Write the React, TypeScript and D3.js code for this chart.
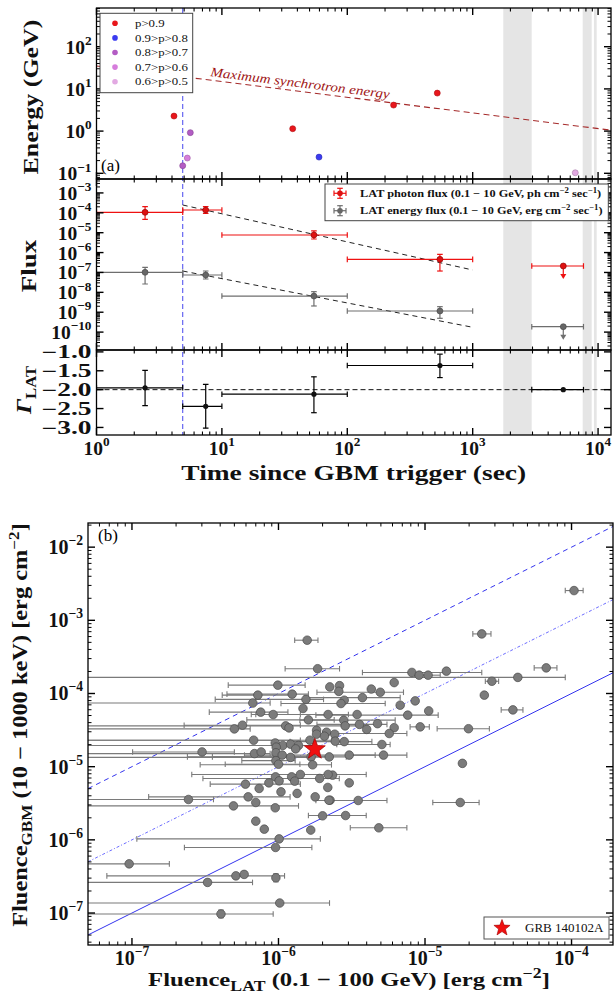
import React, { useLayoutEffect, useRef, useState } from "react";
import * as d3 from "d3";

// ---------------- Panel (a) data ----------------
const probLabels = ["p>0.9", "0.9>p>0.8", "0.8>p>0.7", "0.7>p>0.6", "0.6>p>0.5"];
const probColors = ["#e8161b", "#3b3bf0", "#b35cc4", "#d67ddc", "#e2a9e2"];
const photonTime = [4.15, 5.6, 5.3, 4.87, 36.7, 59.5, 234, 522, 6580];
const photonEnergy = [2.27, 0.92, 0.23, 0.151, 1.14, 0.242, 4.13, 7.95, 0.103];
const photonClass = [0, 2, 3, 2, 0, 1, 0, 0, 4];

const maxSyncTime = [1, 12680];
const maxSyncEnergy = [35, 1.05];

const binTime = [2.44, 7.43, 54.2, 548, 5280];
const binStart = [1, 4.87, 10, 100, 2960];
const binEnd = [4.87, 10, 100, 1000, 7650];
const photonFlux = [1.06e-4, 1.38e-4, 7.66e-6, 4.57e-7, 2.11e-7];
const photonFluxLo = [4.71e-5, 9.2e-5, 4.82e-6, 1.18e-7, NaN];
const photonFluxHi = [2.03e-4, 2.07e-4, 1.22e-5, 8.2e-7, NaN];
const energyFlux = [1.02e-7, 7.45e-8, 6.5e-9, 1.15e-9, 1.87e-10];
const energyFluxLo = [2.62e-8, 4.69e-8, 2.06e-9, 4.94e-10, NaN];
const energyFluxHi = [1.82e-7, 1.18e-7, 1.08e-8, 1.9e-9, NaN];
const isUpperLimit = [false, false, false, false, true];
const photonFitTime = [4.87, 1000];
const photonFitFlux = [2.47e-4, 1.33e-7];
const energyFitTime = [4.87, 1000];
const energyFitFlux = [1.18e-7, 1.75e-10];
const photonIndex = [-1.95, -2.44, -2.12, -1.36, -2.0];
const photonIndexLo = [-2.42, -3.02, -2.61, -1.68, NaN];
const photonIndexHi = [-1.49, -1.86, -1.66, -1.06, NaN];
const gapStart = [1754, 7540, 9270];
const gapEnd = [2956, 8890, 9750];
const triggerTime = 4.87;
const referenceIndex = -2.0;

const energyTickExp = [-1, 0, 1, 2];
const fluxTickExp = [-3, -4, -5, -6, -7, -8, -9, -10];
const indexTicks = [-1.0, -1.5, -2.0, -2.5, -3.0];
const timeTickExp = [0, 1, 2, 3, 4];

// ---------------- Panel (b) data ----------------
const EDGE = 1e-8;
// [Fluence LAT, Fluence GBM, LAT low, LAT high]
const grbSample: (number | null)[][] = [
  [1.57e-6, 5.35e-4, 1.29e-6, 1.86e-6],
  [1.85e-6, 2.18e-4, 1.11e-6, 2.61e-6],
  [9.9e-7, 1.3e-4, 4.54e-7, 1.52e-6],
  [2.24e-6, 1.23e-4, null, null],
  [2.61e-6, 1.28e-4, null, null],
  [2.58e-6, 1.07e-4, null, null],
  [7.23e-7, 9.5e-5, 4.13e-7, 1.24e-6],
  [1.24e-6, 9.8e-5, 4.45e-7, 1.6e-6],
  [1.54e-6, 8.3e-5, 3.7e-7, 2.03e-6],
  [6.68e-7, 7.4e-5, EDGE, 8.77e-7],
  [2.81e-6, 8.1e-5, null, null],
  [2.67e-6, 7.3e-5, 1.04e-6, 5.35e-6],
  [1.47e-6, 6.24e-5, null, null],
  [7.56e-7, 5.56e-5, 3.37e-7, 1.16e-6],
  [9.2e-7, 5.16e-5, 6.52e-7, 1.41e-6],
  [2.18e-6, 5.16e-5, 7.0e-7, 3.0e-6],
  [1.6e-6, 4.36e-5, 6.08e-7, 2.4e-6],
  [2.79e-6, 4.32e-5, 1.4e-6, 6.26e-6],
  [2.85e-6, 3.61e-5, EDGE, 4.0e-6],
  [5.0e-7, 3.28e-5, EDGE, 6.41e-7],
  [5.68e-7, 3.69e-5, 2.27e-7, 1.41e-6],
  [1.12e-6, 3.61e-5, null, null],
  [1.18e-6, 3.39e-5, null, null],
  [1.82e-6, 3.15e-5, null, null],
  [2.13e-6, 2.96e-5, null, null],
  [1.82e-6, 2.78e-5, null, null],
  [2.42e-6, 2.78e-5, null, null],
  [2.06e-6, 2.61e-5, null, null],
  [6.77e-7, 2.3e-5, EDGE, 1.41e-6],
  [1.64e-6, 2.3e-5, EDGE, 2.3e-6],
  [2.44e-6, 2.23e-5, null, null],
  [2.81e-6, 2.2e-5, 1.2e-6, 4.34e-6],
  [3.01e-7, 1.59e-5, 1.01e-7, 5.0e-7],
  [6.86e-7, 1.51e-5, EDGE, 8.77e-7],
  [7.62e-7, 1.59e-5, null, null],
  [8.14e-6, 1.94e-4, 3.74e-6, 2.44e-5],
  [9.12e-6, 1.78e-4, null, null],
  [1.05e-5, 1.78e-4, 8.5e-6, 1.27e-5],
  [1.4e-5, 2.02e-4, null, null],
  [6.16e-6, 1.41e-4, null, null],
  [4.3e-6, 1.15e-4, null, null],
  [4.95e-6, 1.04e-4, 1.83e-6, 7.13e-6],
  [3.74e-6, 8.77e-5, 1.5e-6, 6.77e-6],
  [6.77e-6, 6.92e-5, null, null],
  [8.57e-6, 7.92e-5, null, null],
  [3.44e-6, 5.16e-5, null, null],
  [7.62e-6, 5.06e-5, 1.8e-6, 1.23e-5],
  [1.06e-5, 5.78e-5, null, null],
  [3.57e-6, 3.78e-5, 1.83e-6, 5.5e-6],
  [4.74e-6, 3.87e-5, null, null],
  [4.0e-6, 3.23e-5, null, null],
  [6.16e-6, 3.41e-5, null, null],
  [5.7e-6, 2.84e-5, 2.0e-6, 7.52e-6],
  [9.27e-6, 3.5e-5, 7.91e-6, 1.07e-5],
  [5.08e-6, 2.01e-5, 2.5e-6, 5.78e-6],
  [9.5e-7, 2.11e-5, null, null],
  [1.07e-6, 1.95e-5, null, null],
  [1.21e-6, 2.03e-5, null, null],
  [1.37e-6, 1.95e-5, EDGE, 1.8e-6],
  [9.65e-7, 1.85e-5, null, null],
  [1.31e-6, 1.75e-5, null, null],
  [9.6e-7, 1.55e-5, null, null],
  [1.06e-6, 1.44e-5, null, null],
  [1.21e-6, 1.34e-5, EDGE, 1.7e-6],
  [2.22e-6, 1.36e-5, 2.39e-7, 2.9e-6],
  [5.21e-6, 1.44e-5, 2.98e-6, 7.52e-6],
  [9.6e-7, 1.21e-5, 5.62e-7, 1.3e-6],
  [1.0e-6, 1.08e-5, 4.33e-7, 1.4e-6],
  [1.67e-6, 1.36e-5, 3.54e-7, 2.2e-6],
  [1.71e-6, 1.06e-5, 2.92e-7, 2.3e-6],
  [3.04e-6, 1.44e-5, 5.86e-7, 4.57e-6],
  [1.04e-4, 2.55e-3, 9.06e-5, 1.2e-4],
  [2.44e-5, 6.52e-4, 2.12e-5, 2.82e-5],
  [6.72e-5, 2.24e-4, 5.56e-5, 7.95e-5],
  [2.86e-5, 1.47e-4, 2.58e-5, 3.18e-5],
  [4.3e-5, 1.66e-4, EDGE, 9.06e-5],
  [2.54e-5, 9.5e-5, null, null],
  [3.98e-5, 5.97e-5, 3.31e-5, 4.66e-5],
  [1.98e-5, 3.3e-5, 1.21e-5, 2.75e-5],
  [1.8e-5, 1.11e-5, null, null],
  [1.74e-5, 3.24e-6, 1.13e-5, 2.34e-5],
  [2.34e-6, 7.66e-6, null, null],
  [3.04e-6, 6.01e-6, null, null],
  [3.5e-6, 3.45e-6, 1.8e-6, 5.5e-6],
  [2.87e-6, 2.15e-6, 1.6e-6, 3.97e-6],
  [4.84e-6, 1.46e-6, 3.09e-6, 7.52e-6],
  [2.25e-6, 3.48e-6, null, null],
  [9.55e-7, 7.26e-6, null, null],
  [1.23e-6, 7.26e-6, null, null],
  [1.41e-6, 7.82e-6, null, null],
  [2.18e-6, 7.82e-6, 2.56e-7, 3.97e-6],
  [1.01e-6, 6.4e-6, null, null],
  [1.29e-6, 6.34e-6, null, null],
  [1.91e-6, 6.9e-6, 3.05e-7, 2.6e-6],
  [5.95e-7, 5.77e-6, 3.42e-7, 1.41e-6],
  [8.6e-7, 6.01e-6, null, null],
  [7.38e-7, 5.04e-6, null, null],
  [1.04e-6, 4.53e-6, null, null],
  [1.34e-6, 4.31e-6, null, null],
  [2.17e-6, 5.2e-6, null, null],
  [2.43e-7, 3.56e-6, EDGE, 3.6e-7],
  [6.21e-7, 3.87e-6, 1.3e-7, 1.2e-6],
  [1.78e-6, 3.87e-6, null, null],
  [2.21e-6, 3.48e-6, null, null],
  [4.93e-7, 2.91e-6, EDGE, 1.37e-6],
  [7.0e-7, 3.24e-6, null, null],
  [9.5e-7, 2.74e-6, null, null],
  [2.0e-6, 2.13e-6, null, null],
  [7.0e-7, 1.8e-6, null, null],
  [8.0e-7, 1.4e-6, null, null],
  [1.66e-6, 1.36e-6, null, null],
  [1.01e-6, 1.03e-6, 1.08e-7, 1.93e-6],
  [9.55e-7, 7.87e-7, 2.28e-7, 1.69e-6],
  [9.57e-8, 4.7e-7, EDGE, 1.8e-7],
  [5.12e-7, 3.22e-7, 6.74e-8, 1.1e-6],
  [5.83e-7, 3.37e-7, null, null],
  [9.6e-7, 3.03e-7, null, null],
  [3.28e-7, 2.62e-7, EDGE, 6.65e-7],
  [1.02e-6, 1.37e-7, EDGE, 2.23e-6],
  [4.05e-7, 9.7e-8, EDGE, 9.2e-7],
];
// [row index, GBM low, GBM high]
const gbmErrors = [
  [116, 2.67e-7, 3.44e-7],
  [119, 8.6e-8, 1.1e-7],
];
const grb140102A = [1.77e-6, 1.73e-5];
const ratioLines = [1, 10, 100];
const ratioDash = ["none", "3,2,1,2", "5,4"];
const fluGbmTickExp = [-2, -3, -4, -5, -6, -7];
const fluLatTickExp = [-7, -6, -5, -4];

// ---------------- helpers ----------------
const SERIF = "'Liberation Serif','DejaVu Serif','Times New Roman',serif";
const MINUS = "\u2212";

function logTicks(scale: any) {
  const dom = scale.domain();
  const lo = Math.min(dom[0], dom[1]);
  const hi = Math.max(dom[0], dom[1]);
  const major: number[] = [];
  const minor: number[] = [];
  for (let e = Math.floor(Math.log10(lo)); e <= Math.ceil(Math.log10(hi)); e++) {
    for (let m = 1; m < 10; m++) {
      const v = m * Math.pow(10, e);
      if (v >= lo * 0.9999 && v <= hi * 1.0001) (m === 1 ? major : minor).push(v);
    }
  }
  return { major, minor };
}

// text stretched horizontally to a given width (imitates the wide bold TeX font)
function FitText({ x, y, width, rotate = 0, anchor = "middle", children, ...rest }: any) {
  const ref = useRef<SVGTextElement>(null);
  const [sx, setSx] = useState(1);
  useLayoutEffect(() => {
    if (ref.current) {
      const w = ref.current.getBBox().width;
      if (w > 0) setSx(width / w);
    }
  }, [width]);
  return (
    <g transform={`translate(${x},${y}) rotate(${rotate}) scale(${sx},1)`}>
      <text ref={ref} x={0} y={0} textAnchor={anchor} fontFamily={SERIF} {...rest}>
        {children}
      </text>
    </g>
  );
}

function Pow({ x, y, e, anchor = "middle", fs = 20 }: any) {
  const s = e < 0 ? MINUS + Math.abs(e) : String(e);
  return (
    <text x={x} y={y} textAnchor={anchor} fontFamily={SERIF} fontSize={fs} fontWeight="bold" fill="#111">
      10
      <tspan dy={-fs * 0.45} fontSize={fs * 0.68}>
        {s}
      </tspan>
    </text>
  );
}

function starPath(cx: number, cy: number, R: number, r: number) {
  const p = d3.path();
  for (let i = 0; i < 10; i++) {
    const a = -Math.PI / 2 + (i * Math.PI) / 5;
    const rad = i % 2 === 0 ? R : r;
    const px = cx + rad * Math.cos(a);
    const py = cy + rad * Math.sin(a);
    if (i === 0) p.moveTo(px, py);
    else p.lineTo(px, py);
  }
  p.closePath();
  return p.toString();
}

export default function App() {
  // layout
  const aL = 96.5, aR = 611;
  const eTop = 8, eBot = 179, fBot = 350, gBot = 435;
  const bL = 88, bR = 613, bTop = 523, bBot = 945;

  const xA = d3.scaleLog().domain([1, 12680]).range([aL, aR]);
  const yE = d3.scaleLog().domain([Math.pow(10, -1.135), Math.pow(10, 2.917)]).range([eBot, eTop]);
  const yF = d3.scaleLog().domain([Math.pow(10, -10.9), Math.pow(10, -2.3)]).range([fBot, eBot]);
  const yG = d3.scaleLinear().domain([-3.2, -0.95]).range([gBot, fBot]);
  const xB = d3.scaleLog().domain([Math.pow(10, -7.3), Math.pow(10, -3.717)]).range([bL, bR]);
  const yB = d3.scaleLog().domain([Math.pow(10, -7.437), Math.pow(10, -1.67)]).range([bBot, bTop]);

  const MAJ = 7, MIN = 3.5;
  const tickEls: any[] = [];
  let k = 0;
  const tl = (x1: number, y1: number, x2: number, y2: number, w: number) =>
    tickEls.push(<line key={"t" + k++} x1={x1} y1={y1} x2={x2} y2={y2} stroke="#000" strokeWidth={w} />);

  const xTickSet = (sc: any, vals: number[], T: number, B: number, len: number, w: number) =>
    vals.forEach((v) => {
      const p = sc(v);
      tl(p, B, p, B - len, w);
      tl(p, T, p, T + len, w);
    });
  const yTickSet = (sc: any, vals: number[], L: number, R: number, len: number, w: number) =>
    vals.forEach((v) => {
      const p = sc(v);
      tl(L, p, L + len, p, w);
      tl(R, p, R - len, p, w);
    });

  const tA = logTicks(xA);
  [[eTop, eBot], [eBot, fBot], [fBot, gBot]].forEach(([T, B]) => {
    xTickSet(xA, tA.major, T, B, MAJ, 1.4);
    xTickSet(xA, tA.minor, T, B, MIN, 1.1);
  });
  const eT = logTicks(yE);
  yTickSet(yE, eT.major, aL, aR, MAJ, 1.4);
  yTickSet(yE, eT.minor, aL, aR, MIN, 1.0);
  const fT = logTicks(yF);
  yTickSet(yF, fT.major, aL, aR, MAJ, 1.4);
  yTickSet(yF, fT.minor, aL, aR, MIN, 1.0);
  yTickSet(yG, indexTicks, aL, aR, MAJ, 1.4);

  const bxT = logTicks(xB);
  xTickSet(xB, bxT.major, bTop, bBot, MAJ, 1.4);
  xTickSet(xB, bxT.minor, bTop, bBot, MIN, 1.0);
  const byT = logTicks(yB);
  yTickSet(yB, byT.major, bL, bR, MAJ, 1.4);
  yTickSet(yB, byT.minor, bL, bR, MIN, 1.0);

  const red = "#ee1111";
  const gray = "#6e6e6e";

  const cap = 2.8;
  const hErr = (x1: number, x2: number, y: number, color: string, w: number, key: string) => (
    <g key={key} stroke={color} strokeWidth={w}>
      <line x1={x1} x2={x2} y1={y} y2={y} />
      <line x1={x1} x2={x1} y1={y - cap} y2={y + cap} />
      <line x1={x2} x2={x2} y1={y - cap} y2={y + cap} />
    </g>
  );
  const vErr = (x: number, y1: number, y2: number, color: string, w: number, key: string) => (
    <g key={key} stroke={color} strokeWidth={w}>
      <line x1={x} x2={x} y1={y1} y2={y2} />
      <line x1={x - cap} x2={x + cap} y1={y1} y2={y1} />
      <line x1={x - cap} x2={x + cap} y1={y2} y2={y2} />
    </g>
  );

  const syncLine = d3
    .line<number>()
    .x((_, i) => xA(maxSyncTime[i]))
    .y((_, i) => yE(maxSyncEnergy[i]))(maxSyncTime as any);
  const sx0 = xA(maxSyncTime[0]), sy0 = yE(maxSyncEnergy[0]);
  const sx1 = xA(maxSyncTime[1]), sy1 = yE(maxSyncEnergy[1]);
  const syncAngle = (Math.atan2(sy1 - sy0, sx1 - sx0) * 180) / Math.PI;
  const textX = 210;
  const textY = sy0 + ((textX - sx0) * (sy1 - sy0)) / (sx1 - sx0) - 4;

  const fitPath = (ts: number[], fs: number[]) =>
    d3.line<number>().x((_, i) => xA(ts[i])).y((_, i) => yF(fs[i]))(ts as any);

  const xDom = xB.domain();
  const upArrow = (x: number, y: number, c: string, key: string) => (
    <g key={key}>
      <line x1={x} x2={x} y1={y} y2={y + 9} stroke={c} strokeWidth={1.2} />
      <path d={`M${x - 3},${y + 8} L${x + 3},${y + 8} L${x},${y + 13} Z`} fill={c} />
    </g>
  );

  return (
    <div style={{ position: "absolute", left: 0, top: 0 }}>
      <svg width={614} height={995} viewBox="0 0 614 995" style={{ display: "block", background: "#fff" }}>
        <defs>
          <clipPath id="clipA">
            <rect x={aL} y={eTop} width={aR - aL} height={gBot - eTop} />
          </clipPath>
          <clipPath id="clipB">
            <rect x={bL} y={bTop} width={bR - bL} height={bBot - bTop} />
          </clipPath>
        </defs>
        <rect x={0} y={0} width={614} height={995} fill="#fff" />

        {/* ---------- Panel (a) ---------- */}
        <g clipPath="url(#clipA)">
          {gapStart.map((s, i) => (
            <rect key={"gap" + i} x={xA(s)} y={eTop} width={xA(gapEnd[i]) - xA(s)} height={gBot - eTop} fill="#e5e5e5" />
          ))}
          <line x1={xA(triggerTime)} x2={xA(triggerTime)} y1={eTop} y2={gBot} stroke="#5656f0" strokeWidth={1.1} strokeDasharray="5,3" />
          <path d={syncLine || ""} fill="none" stroke="#a52a2a" strokeWidth={1.1} strokeDasharray="6,4" />
          {photonTime.map((t, i) => (
            <circle
              key={"ph" + i}
              cx={xA(t)}
              cy={yE(photonEnergy[i])}
              r={3}
              fill={probColors[photonClass[i]]}
              stroke={d3.color(probColors[photonClass[i]])!.darker(0.8).toString()}
              strokeWidth={0.6}
            />
          ))}

          <path d={fitPath(photonFitTime, photonFitFlux) || ""} fill="none" stroke="#222" strokeWidth={1} strokeDasharray="5,4" />
          <path d={fitPath(energyFitTime, energyFitFlux) || ""} fill="none" stroke="#222" strokeWidth={1} strokeDasharray="5,4" />
          {binTime.map((t, i) => (
            <g key={"pf" + i}>
              {hErr(xA(binStart[i]), xA(binEnd[i]), yF(photonFlux[i]), red, 1.2, "pfh" + i)}
              {!isUpperLimit[i] && vErr(xA(t), yF(photonFluxHi[i]), yF(photonFluxLo[i]), red, 1.2, "pfv" + i)}
              {isUpperLimit[i] && upArrow(xA(t), yF(photonFlux[i]), red, "pfu" + i)}
              <circle cx={xA(t)} cy={yF(photonFlux[i])} r={3} fill="#dd1111" stroke="#8a0000" strokeWidth={0.6} />
            </g>
          ))}
          {binTime.map((t, i) => (
            <g key={"ef" + i}>
              {hErr(xA(binStart[i]), xA(binEnd[i]), yF(energyFlux[i]), gray, 1.2, "efh" + i)}
              {!isUpperLimit[i] && vErr(xA(t), yF(energyFluxHi[i]), yF(energyFluxLo[i]), gray, 1.2, "efv" + i)}
              {isUpperLimit[i] && upArrow(xA(t), yF(energyFlux[i]), gray, "efu" + i)}
              <circle cx={xA(t)} cy={yF(energyFlux[i])} r={3} fill="#666" stroke="#444" strokeWidth={0.6} />
            </g>
          ))}

          <line x1={aL} x2={aR} y1={yG(referenceIndex)} y2={yG(referenceIndex)} stroke="#111" strokeWidth={1} strokeDasharray="5,3" />
          {binTime.map((t, i) => (
            <g key={"gi" + i}>
              {hErr(xA(binStart[i]), xA(binEnd[i]), yG(photonIndex[i]), "#000", 1.2, "gih" + i)}
              {!isNaN(photonIndexLo[i]) && vErr(xA(t), yG(photonIndexHi[i]), yG(photonIndexLo[i]), "#000", 1.2, "giv" + i)}
              <circle cx={xA(t)} cy={yG(photonIndex[i])} r={2.6} fill="#111" />
            </g>
          ))}
        </g>
        <FitText x={textX} y={textY} width={182} rotate={syncAngle} anchor="start" fontStyle="italic" fontSize={13} fill="#a01515">
          Maximum synchrotron energy
        </FitText>

        <rect x={aL} y={eTop} width={aR - aL} height={eBot - eTop} fill="none" stroke="#000" strokeWidth={1.3} />
        <rect x={aL} y={eBot} width={aR - aL} height={fBot - eBot} fill="none" stroke="#000" strokeWidth={1.3} />
        <rect x={aL} y={fBot} width={aR - aL} height={gBot - fBot} fill="none" stroke="#000" strokeWidth={1.3} />

        {/* ---------- Panel (b) ---------- */}
        <g clipPath="url(#clipB)">
          {ratioLines.map((r, i) => (
            <line
              key={"rl" + i}
              x1={xB(xDom[0])}
              y1={yB(xDom[0] * r)}
              x2={xB(xDom[1])}
              y2={yB(xDom[1] * r)}
              stroke={i === 1 ? "#6b6bff" : "#3434ee"}
              strokeWidth={1}
              strokeDasharray={ratioDash[i]}
            />
          ))}
          {grbSample.map((d, i) =>
            d[2] != null && d[3] != null
              ? hErr(xB(d[2] as number), xB(d[3] as number), yB(d[1] as number), "#7a7a7a", 1.1, "be" + i)
              : null
          )}
          {gbmErrors.map((e, i) => {
            const d = grbSample[e[0]];
            return vErr(xB(d[0] as number), yB(e[2]), yB(e[1]), "#7a7a7a", 1.1, "bv" + i);
          })}
          {grbSample.map((d, i) => (
            <circle key={"bp" + i} cx={xB(d[0] as number)} cy={yB(d[1] as number)} r={4.3} fill="#7b7b7b" stroke="#4a4a4a" strokeWidth={0.7} />
          ))}
          <path d={starPath(xB(grb140102A[0]), yB(grb140102A[1]), 11, 4.6)} fill="#f01010" stroke="#a00000" strokeWidth={0.7} />
        </g>
        <rect x={bL} y={bTop} width={bR - bL} height={bBot - bTop} fill="none" stroke="#000" strokeWidth={1.3} />

        {tickEls}

        {/* ---------- tick labels ---------- */}
        {energyTickExp.map((e) => (
          <Pow key={"el" + e} x={aL - 5} y={yE(Math.pow(10, e)) + 7} e={e} anchor="end" fs={19.5} />
        ))}
        {fluxTickExp.map((e) => (
          <Pow key={"fl" + e} x={aL - 5} y={yF(Math.pow(10, e)) + 7} e={e} anchor="end" fs={19.5} />
        ))}
        {indexTicks.map((v) => (
          <FitText key={"gl" + v} x={aL - 5} y={yG(v) + 6.5} width={50} anchor="end" fontSize={18} fontWeight="bold" fill="#111">
            {MINUS + Math.abs(v).toFixed(1)}
          </FitText>
        ))}
        {timeTickExp.map((e) => (
          <Pow key={"tl" + e} x={xA(Math.pow(10, e))} y={gBot + 20} e={e} fs={19.5} />
        ))}
        {fluGbmTickExp.map((e) => (
          <Pow key={"bl" + e} x={bL - 5} y={yB(Math.pow(10, e)) + 7} e={e} anchor="end" />
        ))}
        {fluLatTickExp.map((e) => (
          <Pow key={"xl" + e} x={xB(Math.pow(10, e))} y={bBot + 20} e={e} />
        ))}

        {/* ---------- axis titles ---------- */}
        <FitText x={38} y={97} width={155} rotate={-90} fontSize={21} fontWeight="bold" fill="#111">
          Energy (GeV)
        </FitText>
        <FitText x={36} y={266} width={53} rotate={-90} fontSize={21} fontWeight="bold" fill="#111">
          Flux
        </FitText>
        <FitText x={31} y={390} width={50} rotate={-90} fontSize={21} fontWeight="bold" fill="#111">
          <tspan fontStyle="italic">Γ</tspan>
          <tspan dy={5} fontSize={14}>
            LAT
          </tspan>
        </FitText>
        <FitText x={(aL + aR) / 2} y={gBot + 45} width={345} fontSize={20} fontWeight="bold" fill="#111">
          Time since GBM trigger (sec)
        </FitText>
        <FitText x={27} y={725} width={404} rotate={-90} fontSize={20} fontWeight="bold" fill="#111">
          Fluence
          <tspan dy={5} fontSize={14}>
            GBM
          </tspan>
          <tspan dy={-5}>{` (10 ${MINUS} 1000 keV) [erg cm`}</tspan>
          <tspan dy={-8} fontSize={14}>
            {MINUS}2
          </tspan>
          <tspan dy={8}>]</tspan>
        </FitText>
        <FitText x={349} y={bBot + 41} width={402} fontSize={19.5} fontWeight="bold" fill="#111">
          Fluence
          <tspan dy={5} fontSize={14}>
            LAT
          </tspan>
          <tspan dy={-5}>{` (0.1 ${MINUS} 100 GeV) [erg cm`}</tspan>
          <tspan dy={-8} fontSize={14}>
            {MINUS}2
          </tspan>
          <tspan dy={8}>]</tspan>
        </FitText>

        <text x={101} y={171} fontFamily={SERIF} fontSize={17}>
          (a)
        </text>
        <text x={98} y={541} fontFamily={SERIF} fontSize={17}>
          (b)
        </text>

        {/* ---------- legends ---------- */}
        <g>
          <rect x={100} y={13.3} width={92.7} height={79.4} fill="#fff" stroke="#444" strokeWidth={1} />
          {probLabels.map((lab, i) => (
            <g key={"lg" + i}>
              <circle cx={115} cy={23.3 + i * 14.6} r={2.8} fill={probColors[i]} />
              <g transform={`translate(135,${27 + i * 14.6}) scale(1.22,1)`}>
                <text x={0} y={0} fontFamily={SERIF} fontSize={10.5} fill="#111">
                  {lab}
                </text>
              </g>
            </g>
          ))}
        </g>
        <g>
          <rect x={325} y={184} width={283.3} height={36.7} fill="#fff" stroke="#444" strokeWidth={1} />
          {[
            { c: red, fc: "#dd1111", t1: "LAT photon flux (0.1 ", t2: " 10 GeV, ph cm", y: 193.3, w: 242 },
            { c: gray, fc: "#666", t1: "LAT energy flux (0.1 ", t2: " 10 GeV, erg cm", y: 210.7, w: 243.5 },
          ].map((e, i) => (
            <g key={"fleg" + i}>
              {hErr(334, 346, e.y, e.c, 1.2, "lh" + i)}
              {vErr(340, e.y - 5, e.y + 5, e.c, 1.2, "lv" + i)}
              <circle cx={340} cy={e.y} r={2.8} fill={e.fc} />
              <FitText x={360} y={e.y + 3.6} width={e.w} anchor="start" fontSize={10.5} fontWeight="bold" fill="#111">
                {e.t1 + MINUS + e.t2}
                <tspan dy={-4} fontSize={7.5}>
                  {MINUS}2
                </tspan>
                <tspan dy={4}> sec</tspan>
                <tspan dy={-4} fontSize={7.5}>
                  {MINUS}1
                </tspan>
                <tspan dy={4}>)</tspan>
              </FitText>
            </g>
          ))}
        </g>
        <g>
          <rect x={484} y={917} width={125} height={22} fill="#fff" stroke="#555" strokeWidth={1} />
          <path d={starPath(502, 928, 8.5, 3.6)} fill="#f01010" stroke="#a00000" strokeWidth={0.6} />
          <FitText x={525} y={932} width={79} anchor="start" fontSize={12} fill="#111">
            GRB 140102A
          </FitText>
        </g>
      </svg>
    </div>
  );
}
